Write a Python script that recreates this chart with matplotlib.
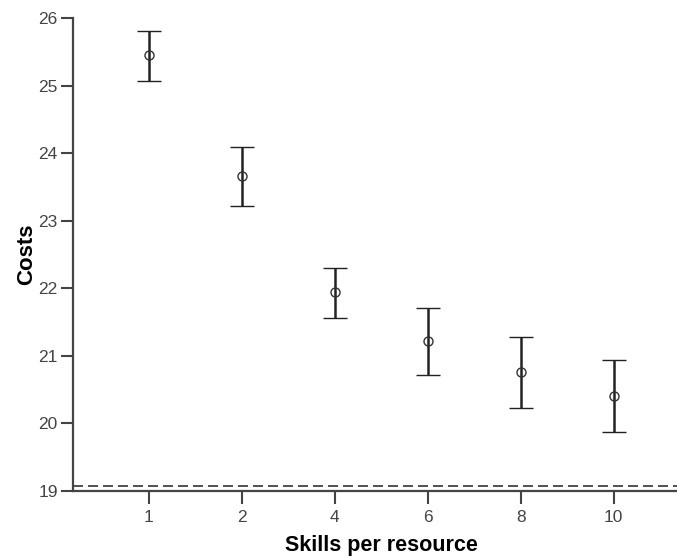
import matplotlib
matplotlib.use("Agg")
import matplotlib.pyplot as plt

plt.rcParams['font.family'] = ['Liberation Sans', 'DejaVu Sans']

# Mean costs with 95% confidence interval bounds per skills-per-resource level
categories = ["1", "2", "4", "6", "8", "10"]
means = [25.45, 23.66, 21.94, 21.22, 20.76, 20.41]
upper = [25.81, 24.09, 22.30, 21.71, 21.28, 20.94]
lower = [25.07, 23.22, 21.56, 20.72, 20.23, 19.87]
reference_level = 19.07

fig = plt.figure(figsize=(6.77, 5.59), dpi=100)
ax = fig.add_axes([0.1078, 0.1216, 0.911, 0.8462])

x = list(range(len(categories)))
err_low = [m - l for m, l in zip(means, lower)]
err_high = [u - m for m, u in zip(means, upper)]

ax.errorbar(x, means, yerr=[err_low, err_high], fmt='o', color='#222222',
            markerfacecolor='none', markeredgecolor='#333333', markersize=6.5,
            markeredgewidth=1.0, elinewidth=1.8, capsize=8.5, capthick=1.8)

ax.axhline(reference_level, color='#333333', linestyle=(0, (6, 3)), linewidth=1.2)

ax.set_xlim(-0.817, 5.817)
ax.set_ylim(19, 26)
ax.set_xticks(x)
ax.set_xticklabels(categories)
ax.set_yticks(range(19, 27))

for side in ('top', 'right'):
    ax.spines[side].set_visible(False)
for side in ('left', 'bottom'):
    ax.spines[side].set_color('#444444')
    ax.spines[side].set_linewidth(1.6)

ax.tick_params(axis='both', direction='out', length=9, width=1.5,
               color='#444444', labelcolor='#444444', labelsize=12.5, pad=2)
ax.tick_params(axis='x', pad=5)

ax.set_xlabel("Skills per resource", fontsize=15.5, fontweight='bold', labelpad=7)
ax.set_ylabel("Costs", fontsize=16, fontweight='bold', labelpad=1)

fig.savefig("out.png", dpi=100)
